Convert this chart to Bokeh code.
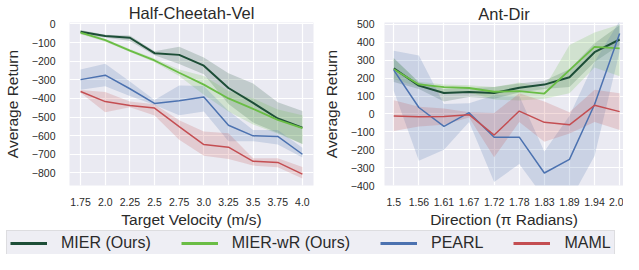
from bokeh.plotting import figure
from bokeh.layouts import column, row
from bokeh.models import Range1d, FixedTicker, Legend, LegendItem
from bokeh.embed import file_html
from bokeh.resources import INLINE

FONT = "Liberation Sans"
TXT = "#2a2a2a"
BG = "#eaeaf2"

names = ["MIER (Ours)", "MIER-wR (Ours)", "PEARL", "MAML"]
colors = ["#1d4e37", "#6abd45", "#4c72b0", "#c44e52"]
widths = [2.0, 1.8, 1.5, 1.5]

# ---------------- Half-Cheetah-Vel ----------------
hc_x = [1.75, 2.0, 2.25, 2.5, 2.75, 3.0, 3.25, 3.5, 3.75, 4.0]
hc_xlabels = ["1.75", "2.0", "2.25", "2.5", "2.75", "3.0", "3.25", "3.5", "3.75", "4.0"]
hc_yticks = [0, -100, -200, -300, -400, -500, -600, -700, -800]
hc_ylabels = ["0", "\u2212100", "\u2212200", "\u2212300", "\u2212400", "\u2212500", "\u2212600", "\u2212700", "\u2212800"]

hc_mier = [-42, -64, -74, -157, -166, -224, -344, -424, -508, -557]
hc_mier_lo = [-55, -72, -92, -168, -215, -270, -430, -530, -585, -645]
hc_mier_hi = [-32, -58, -62, -146, -122, -180, -265, -320, -420, -468]

hc_mierwr = [-47, -87, -143, -196, -262, -326, -400, -456, -515, -560]
hc_mierwr_lo = [-55, -95, -150, -205, -280, -380, -470, -540, -590, -645]
hc_mierwr_hi = [-35, -80, -135, -185, -245, -280, -360, -400, -460, -490]

hc_pearl = [-299, -275, -348, -427, -412, -393, -544, -601, -604, -700]
hc_pearl_lo = [-353, -335, -387, -435, -490, -470, -630, -630, -648, -717]
hc_pearl_hi = [-245, -214, -309, -408, -330, -333, -466, -570, -570, -665]

hc_maml = [-363, -417, -438, -452, -552, -648, -662, -738, -744, -807]
hc_maml_lo = [-370, -474, -448, -492, -622, -708, -726, -761, -770, -830]
hc_maml_hi = [-355, -365, -417, -431, -518, -578, -587, -721, -721, -769]

# ---------------- Ant-Dir ----------------
ad_x = [1.5, 1.5556, 1.6111, 1.6667, 1.7222, 1.7778, 1.8333, 1.8889, 1.9444, 2.0]
ad_xlabels = ["1.5", "1.56", "1.61", "1.67", "1.72", "1.78", "1.83", "1.89", "1.94", "2.0"]
ad_yticks = [500, 400, 300, 200, 100, 0, -100, -200, -300, -400]
ad_ylabels = ["500", "400", "300", "200", "100", "0", "\u2212100", "\u2212200", "\u2212300", "\u2212400"]

ad_mier = [255, 158, 117, 123, 117, 146, 164, 205, 345, 416]
ad_mier_lo = [178, 140, 70, 95, 85, 120, 140, 150, 290, 385]
ad_mier_hi = [312, 175, 140, 145, 150, 170, 185, 250, 395, 495]

ad_mierwr = [250, 165, 150, 145, 124, 128, 114, 245, 375, 366]
ad_mierwr_lo = [195, 150, 120, 120, 80, 75, 85, 115, 260, 210]
ad_mierwr_hi = [310, 180, 165, 160, 150, 175, 145, 385, 455, 500]

ad_pearl = [245, 36, -70, 7, -130, -130, -330, -254, 53, 450]
ad_pearl_lo = [130, -262, -200, -45, -380, -280, -470, -490, -235, 350]
ad_pearl_hi = [353, 326, 55, 60, 105, 100, -210, -10, 290, 520]

ad_maml = [-11, -16, -14, -4, -118, 16, -47, -61, 48, 13]
ad_maml_lo = [-95, -70, -60, -20, -242, -45, -155, -110, -45, -90]
ad_maml_hi = [76, 40, 30, 10, 5, 115, 70, 10, 135, 115]


def style(p, xticks, xlabels, yticks, ylabels):
    p.background_fill_color = BG
    p.border_fill_color = "white"
    p.outline_line_color = None
    for ax in (p.xaxis[0], p.yaxis[0]):
        ax.axis_line_color = None
        ax.major_tick_line_color = None
        ax.minor_tick_line_color = None
        ax.major_label_text_font = FONT
        ax.major_label_text_font_size = "10.5px"
        ax.major_label_text_color = TXT
        ax.axis_label_text_font = FONT
        ax.axis_label_text_font_size = "15.5px"
        ax.axis_label_text_font_style = "normal"
        ax.axis_label_text_color = TXT
    p.xaxis.ticker = FixedTicker(ticks=xticks)
    p.xaxis.major_label_overrides = {t: l for t, l in zip(xticks, xlabels)}
    p.yaxis.ticker = FixedTicker(ticks=yticks)
    p.yaxis.major_label_overrides = {t: l for t, l in zip(yticks, ylabels)}
    p.xaxis.major_label_standoff = 6
    p.xaxis.axis_label_standoff = 2
    p.grid.grid_line_color = "white"
    p.grid.grid_line_width = 1.2
    p.title.text_font = FONT
    p.title.text_font_size = "16.5px"
    p.title.text_font_style = "normal"
    p.title.text_color = TXT
    p.title.align = "center"


def draw(p, x, series):
    for (m, lo, hi), c, w in zip(series, colors, widths):
        p.varea(x=x, y1=lo, y2=hi, fill_color=c, fill_alpha=0.2)
    for (m, lo, hi), c, w in zip(series, colors, widths):
        p.line(x=x, y=m, line_color=c, line_width=w)


p1 = figure(width=319, height=230, output_backend="svg", toolbar_location=None,
            x_range=Range1d(1.6375, 4.1125), y_range=Range1d(-868, 8),
            title="Half-Cheetah-Vel", min_border_left=53, min_border_right=6,
            min_border_top=20, min_border_bottom=43)
p1.title.standoff = 2
style(p1, hc_x, hc_xlabels, hc_yticks, hc_ylabels)
p1.xaxis.axis_label = "Target Velocity (m/s)"
p1.yaxis.axis_label = "Average Return"
p1.yaxis.major_label_standoff = 8
p1.yaxis.axis_label_standoff = 8
draw(p1, hc_x, [(hc_mier, hc_mier_lo, hc_mier_hi), (hc_mierwr, hc_mierwr_lo, hc_mierwr_hi),
                (hc_pearl, hc_pearl_lo, hc_pearl_hi), (hc_maml, hc_maml_lo, hc_maml_hi)])

p2 = figure(width=304, height=230, output_backend="svg", toolbar_location=None,
            x_range=Range1d(1.4795, 2.0085), y_range=Range1d(-400, 511),
            title="Ant-Dir", min_border_left=60, min_border_right=0,
            min_border_top=15, min_border_bottom=45)
p2.title.standoff = 0
style(p2, ad_x, ad_xlabels, ad_yticks, ad_ylabels)
p2.xaxis.axis_label = "Direction (\u03c0 Radians)"
p2.yaxis.axis_label = "Average Return"
p2.yaxis.major_label_standoff = 4
p2.yaxis.axis_label_standoff = 8
draw(p2, ad_x, [(ad_mier, ad_mier_lo, ad_mier_hi), (ad_mierwr, ad_mierwr_lo, ad_mierwr_hi),
                (ad_pearl, ad_pearl_lo, ad_pearl_hi), (ad_maml, ad_maml_lo, ad_maml_hi)])

# ---------------- shared legend ----------------
p3 = figure(width=623, height=24, output_backend="svg", toolbar_location=None,
            x_axis_type=None, y_axis_type=None, x_range=Range1d(0, 1), y_range=Range1d(0, 1),
            min_border=0)
p3.outline_line_color = None
p3.background_fill_color = "white"
p3.border_fill_color = "white"
p3.grid.visible = False
items = []
for n, c in zip(names, colors):
    # placeholder line far outside the visible range: only its legend glyph shows
    r = p3.line(x=[-10, -9], y=[-10, -10], line_color=c, line_width=3)
    items.append(LegendItem(label=n, renderers=[r]))
leg = Legend(items=items, orientation="horizontal", location=(6, -2))
leg.label_text_font = FONT
leg.label_text_font_size = "16px"
leg.label_text_color = TXT
leg.glyph_width = 37
leg.glyph_height = 18
leg.label_height = 18
leg.label_standoff = 14
leg.spacing = 30
leg.padding = 3
leg.margin = 0
leg.border_line_color = "#cccccc"
leg.border_line_width = 1
leg.background_fill_color = "#eeeef4"
leg.background_fill_alpha = 1.0
p3.add_layout(leg, "center")

layout = column(row(p1, p2), p3)
open("out.html", "w").write(file_html(layout, INLINE))
